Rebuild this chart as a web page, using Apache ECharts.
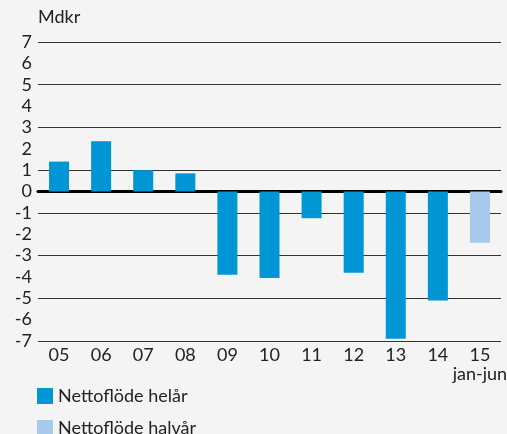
<!DOCTYPE html>
<html>
<head>
<meta charset="utf-8">
<script src="https://cdn.jsdelivr.net/npm/echarts@6/dist/echarts.min.js"></script>
<style>
  html, body { margin: 0; padding: 0; background: #f4f4f4; }
  #chart { width: 507px; height: 434px; }
</style>
</head>
<body>
<div id="chart"></div>
<script>
// years (20xx), last one is first half only
const categories = ["05", "06", "07", "08", "09", "10", "11", "12", "13", "14", "15\njan-jun"];
const fullYear = [1.4, 2.35, 1.0, 0.85, -3.9, -4.05, -1.25, -3.8, -6.9, -5.1, "-"];
const halfYear = ["-", "-", "-", "-", "-", "-", "-", "-", "-", "-", -2.4];

const chart = echarts.init(document.getElementById("chart"));

const textFont = { fontFamily: "Lato", fontSize: 18, color: "#222" };

const legendBase = {
  left: 37,
  padding: 0,
  itemWidth: 16,
  itemHeight: 16,
  itemGap: 7,
  icon: "rect",
  textStyle: textFont,
};

chart.setOption({
  backgroundColor: "#f4f4f4",
  animation: false,
  grid: { left: 38, right: 6, top: 42, bottom: 93, outerBoundsMode: "none" },
  graphic: [
    {
      type: "text",
      left: 38,
      top: 8,
      style: { text: "Mdkr", font: "18px Lato", fill: "#222" },
    },
  ],
  legend: [
    { ...legendBase, top: 387, data: ["Nettoflöde helår"] },
    { ...legendBase, top: 419, data: ["Nettoflöde halvår"] },
  ],
  xAxis: {
    type: "category",
    data: categories,
    axisLine: { onZero: true, lineStyle: { color: "#000", width: 3 } },
    axisTick: { show: false },
    axisLabel: {
      ...textFont,
      interval: 0,
      lineHeight: 19,
      margin: 5,
    },
  },
  yAxis: {
    type: "value",
    min: -7,
    max: 7,
    interval: 1,
    axisLine: { show: false },
    axisTick: { show: false },
    axisLabel: { ...textFont, margin: 6 },
    splitLine: {
      // only odd values get a line, zero line comes from the x axis
      lineStyle: { color: ["#333", "rgba(0,0,0,0)"], width: 1 },
    },
  },
  series: [
    {
      name: "Nettoflöde helår",
      type: "bar",
      data: fullYear,
      barWidth: 20,
      barGap: "-100%",
      itemStyle: { color: "#0096d6" },
    },
    {
      name: "Nettoflöde halvår",
      type: "bar",
      data: halfYear,
      barWidth: 20,
      itemStyle: { color: "#a6c9ec" },
    },
  ],
});
</script>
</body>
</html>
